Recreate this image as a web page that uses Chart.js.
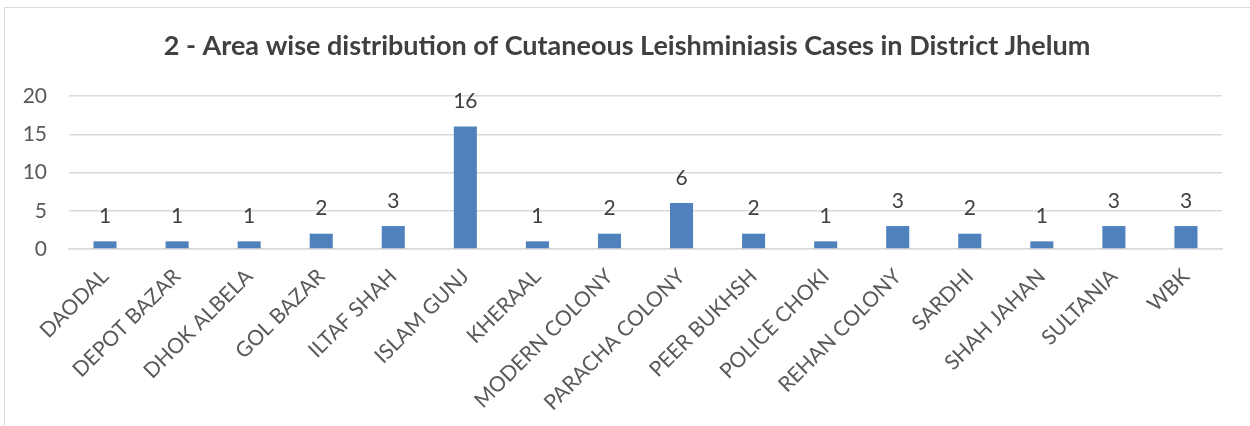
<!DOCTYPE html>
<html>
<head>
<meta charset="utf-8">
<script src="https://cdn.jsdelivr.net/npm/chart.js@4.4.1/dist/chart.umd.min.js"></script>
<style>
    html, body { margin: 0; padding: 0; background: #ffffff; }
    #wrap { position: relative; width: 1250px; height: 426px; }
</style>
</head>
<body>
<div id="wrap"><canvas id="areaChart" width="1250" height="426"></canvas></div>
<script>
const areas = ['DAODAL', 'DEPOT BAZAR', 'DHOK ALBELA', 'GOL BAZAR', 'ILTAF SHAH', 'ISLAM GUNJ', 'KHERAAL',
    'MODERN COLONY', 'PARACHA COLONY', 'PEER BUKHSH', 'POLICE CHOKI', 'REHAN COLONY', 'SARDHI',
    'SHAH JAHAN', 'SULTANIA', 'WBK'];
const cases = [1, 1, 1, 2, 3, 16, 1, 2, 6, 2, 1, 3, 2, 1, 3, 3];
const yTicks = [0, 5, 10, 15, 20];
const chartTitle = '2 - Area wise distribution of Cutaneous Leishminiasis Cases in District Jhelum';

const FONT = 'Lato, "Open Sans", sans-serif';

// value labels above each bar
const barLabels = {
    id: 'barLabels',
    afterDatasetsDraw(chart) {
        const ctx = chart.ctx;
        const meta = chart.getDatasetMeta(0);
        ctx.save();
        ctx.font = '21px ' + FONT;
        ctx.fillStyle = '#404040';
        ctx.textAlign = 'center';
        ctx.textBaseline = 'middle';
        meta.data.forEach((bar, i) => {
            ctx.fillText(String(cases[i]), bar.x, bar.y - 25);
        });
        ctx.restore();
    }
};

// frame + title; the Excel title sits centred on the whole frame, not the plot
const frameAndTitle = {
    id: 'frameAndTitle',
    beforeDraw(chart) {
        const ctx = chart.ctx;
        ctx.save();
        ctx.strokeStyle = '#d9d9d9';
        ctx.lineWidth = 1;
        ctx.strokeRect(4.5, 7.5, 1260, 430);
        ctx.font = 'bold 27px ' + FONT;
        ctx.fillStyle = '#404040';
        ctx.textAlign = 'center';
        ctx.textBaseline = 'middle';
        ctx.fillText(chartTitle, 627, 46);
        ctx.restore();
    }
};

new Chart(document.getElementById('areaChart').getContext('2d'), {
    type: 'bar',
    data: {
        labels: areas,
        datasets: [{
            data: cases,
            backgroundColor: '#4f81bd',
            borderWidth: 0,
            barPercentage: 0.32,
            categoryPercentage: 1.0
        }]
    },
    options: {
        responsive: false,
        animation: false,
        layout: { padding: { left: 16, right: 28, top: 96, bottom: 0 } },
        plugins: {
            legend: { display: false },
            tooltip: { enabled: false },
            title: { display: false }
        },
        scales: {
            y: {
                min: 0,
                max: 20,
                afterBuildTicks: scale => { scale.ticks = yTicks.map(v => ({ value: v })); },
                afterFit: scale => { scale.width = 53; },
                border: { display: false },
                grid: { color: '#d9d9d9', lineWidth: 1.5, drawTicks: false },
                ticks: { color: '#595959', padding: 22, font: { family: FONT, size: 21 } }
            },
            x: {
                afterFit: scale => { scale.height = 177; },
                border: { display: true, color: '#d9d9d9', width: 1.5 },
                grid: { display: false, drawTicks: false },
                ticks: {
                    color: '#595959',
                    padding: 15,
                    minRotation: 45,
                    maxRotation: 45,
                    autoSkip: false,
                    font: { family: FONT, size: 21 }
                }
            }
        }
    },
    plugins: [frameAndTitle, barLabels]
});
</script>
</body>
</html>
